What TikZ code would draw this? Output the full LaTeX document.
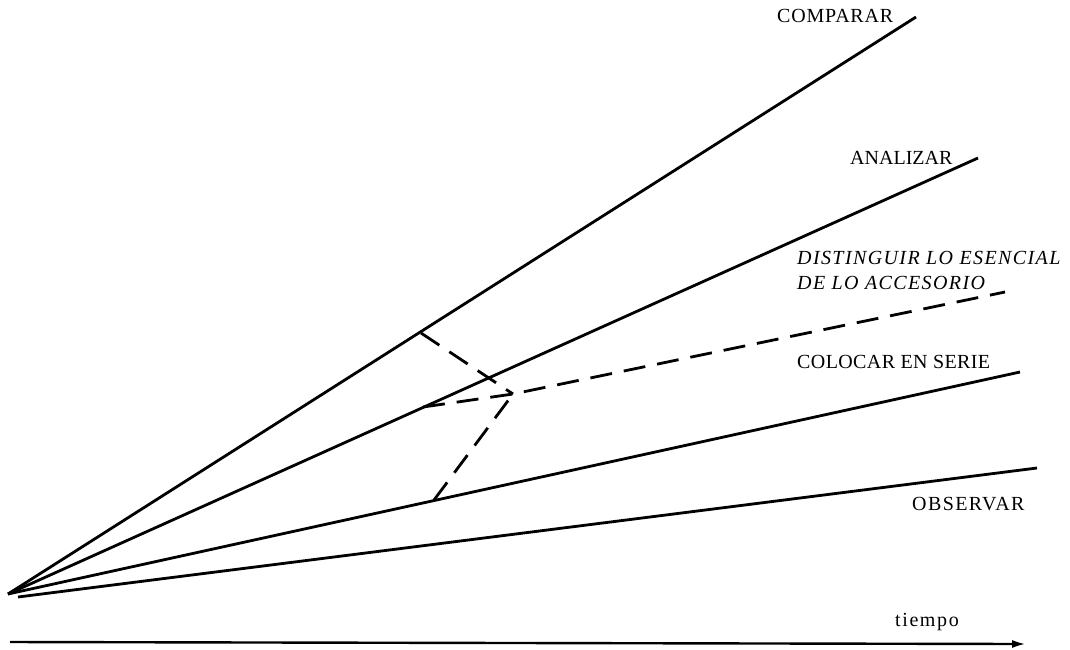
\documentclass[tikz,border=0pt]{standalone}
\usepackage{fontspec}
\setmainfont{Liberation Serif}
\usetikzlibrary{arrows.meta}
\newcommand{\lsp}[1]{\addfontfeature{LetterSpace=#1}}
\begin{document}
\begin{tikzpicture}[x=1pt,y=-1pt,
  ray/.style={line width=2.8pt},
  dray/.style={line width=2.8pt,dash pattern=on 22pt off 12pt},
  lbl/.style={inner sep=0pt,font=\fontsize{20}{23}\selectfont},
  ilbl/.style={inner sep=0pt,font=\fontsize{20}{25}\selectfont\itshape,align=left}]
\useasboundingbox (0,0) rectangle (1070,649);
% origin and end points
\coordinate (O) at (8,594);
\coordinate (O2) at (18,597);
\coordinate (eComp) at (916,17);
\coordinate (eAna) at (978,158);
\coordinate (eCol) at (1020,372);
\coordinate (eObs) at (1037,468);
\coordinate (pComp) at (421,333);
\coordinate (pAna) at (423,407);
\coordinate (J) at (513,394);
\coordinate (pCol) at (434,500);
\coordinate (eDist) at (1005,292);
\coordinate (tA) at (10,642);
\coordinate (tB) at (1026,644);
% rays
\draw[ray] (O) -- (eComp);
\draw[ray] (O) -- (eAna);
\draw[ray] (O) -- (eCol);
\draw[ray] (O2) -- (eObs);
% dashed
\draw[dray] (pComp) -- (J);
\draw[dray] (pAna) -- (J) -- (eDist);
\draw[dray] (pCol) -- (J);
% time axis
\draw[line width=2.4pt,-{Latex[length=14pt,width=8pt]}] (tA) -- (tB);
% labels
\node[lbl,anchor=west] (lComp) at (777,16) {\lsp{4}COMPARAR};
\node[lbl,anchor=west] (lAna) at (850,158) {ANALIZAR};
\node[ilbl,anchor=north west] (lDist) at (797,251) {\lsp{7}DISTINGUIR LO ESENCIAL\\\lsp{7}DE LO ACCESORIO};
\node[lbl,anchor=west] (lCol) at (797,362) {\lsp{2}COLOCAR EN SERIE};
\node[lbl,anchor=west] (lObs) at (912,504) {\lsp{7}OBSERVAR};
\node[lbl,anchor=west] (lTime) at (895,622) {\lsp{8}tiempo};
\end{tikzpicture}
\end{document}
